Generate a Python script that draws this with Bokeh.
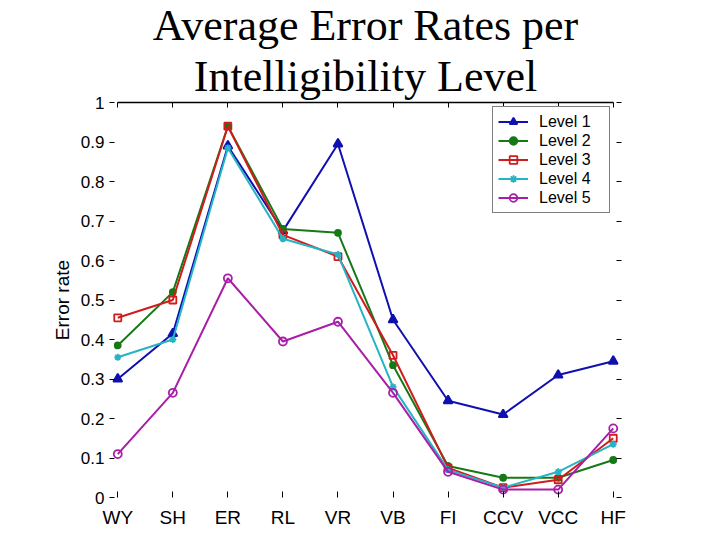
from bokeh.plotting import figure
from bokeh.models import Range1d, FixedTicker, LinearAxis, Legend, LegendItem, Title
from bokeh.embed import file_html
from bokeh.resources import INLINE

categories = ["WY", "SH", "ER", "RL", "VR", "VB", "FI", "CCV", "VCC", "HF"]
level1 = [0.30, 0.415, 0.89, 0.675, 0.895, 0.45, 0.245, 0.21, 0.31, 0.345]
level2 = [0.385, 0.52, 0.94, 0.68, 0.67, 0.335, 0.08, 0.05, 0.05, 0.095]
level3 = [0.455, 0.50, 0.94, 0.665, 0.61, 0.36, 0.075, 0.025, 0.045, 0.15]
level4 = [0.355, 0.40, 0.885, 0.655, 0.615, 0.28, 0.07, 0.025, 0.065, 0.135]
level5 = [0.11, 0.265, 0.555, 0.395, 0.445, 0.265, 0.065, 0.02, 0.02, 0.175]
series_names = ["Level 1", "Level 2", "Level 3", "Level 4", "Level 5"]
y_ticks = [0, 0.1, 0.2, 0.3, 0.4, 0.5, 0.6, 0.7, 0.8, 0.9, 1]
title_lines = ["Average Error Rates per", "Intelligibility Level"]

xpos = list(range(1, len(categories) + 1))

p = figure(width=704, height=532, output_backend="svg", toolbar_location=None,
           x_range=Range1d(0.85, 10.15), y_range=Range1d(0, 1),
           x_axis_location=None, y_axis_location=None,
           min_border_left=109, min_border_right=83, min_border_top=101, min_border_bottom=35)
p.outline_line_color = None
p.xgrid.visible = False
p.ygrid.visible = False
p.background_fill_color = "white"
p.border_fill_color = "white"

FONT = "Liberation Sans"

def style(ax, tick_in, label_size):
    ax.axis_line_color = None
    ax.major_tick_in = tick_in
    ax.major_tick_out = 0
    ax.minor_tick_line_color = None
    ax.major_tick_line_color = "black"
    ax.major_tick_line_width = 1
    ax.major_label_text_font = FONT
    ax.major_label_text_font_size = label_size
    ax.major_label_text_color = "black"

# left axis
left = LinearAxis(ticker=FixedTicker(ticks=y_ticks))
style(left, 5, "17px")
left.major_label_standoff = 5
left.major_label_overrides = {0: "0", 1: "1"}
left.axis_label = "Error rate"
left.axis_label_text_font = FONT
left.axis_label_text_font_size = "19px"
left.axis_label_text_font_style = "normal"
left.axis_label_text_color = "black"
left.axis_label_standoff = 5
p.add_layout(left, "left")

# bottom axis
bottom = LinearAxis(ticker=FixedTicker(ticks=xpos))
style(bottom, 6, "19px")
bottom.major_label_standoff = 9
bottom.major_label_overrides = {i: c for i, c in zip(xpos, categories)}
p.add_layout(bottom, "below")

# top axis (line + inward ticks, no labels)
top = LinearAxis(ticker=FixedTicker(ticks=xpos), bounds=(1, 10))
style(top, 5, "1px")
top.axis_line_color = "black"
top.axis_line_width = 1.5
top.major_label_standoff = 0
top.major_label_overrides = {i: "" for i in xpos}
p.add_layout(top, "above")

# right axis (inward ticks)
right = LinearAxis(ticker=FixedTicker(ticks=y_ticks))
style(right, 5, "1px")
right.major_label_overrides = {t: "" for t in y_ticks}
p.add_layout(right, "right")

colors = ["#1010b0", "#157a15", "#d01c1c", "#25b4c4", "#a81ea8"]
series = [level1, level2, level3, level4, level5]
markers = ["triangle", "circle", "square", "asterisk", "circle"]
msizes = [9, 6, 7, 7, 8]
fills = [True, True, False, False, False]

items = []
for name, ys, c, m, ms, f in zip(series_names, series, colors, markers, msizes, fills):
    r1 = p.line(xpos, ys, line_color=c, line_width=2)
    r2 = p.scatter(xpos, ys, marker=m, size=ms, line_color=c, line_width=1.8,
                   fill_color=c if f else "white", fill_alpha=1.0 if f else 0.0)
    items.append(LegendItem(label=name, renderers=[r1, r2]))

legend = Legend(items=items, location=(383, 284))
legend.border_line_color = "black"
legend.border_line_width = 1
legend.background_fill_color = "white"
legend.background_fill_alpha = 1.0
legend.label_text_font = FONT
legend.label_text_font_size = "16px"
legend.label_text_color = "black"
legend.glyph_width = 30
legend.glyph_height = 19
legend.label_height = 19
legend.label_width = 65
legend.label_standoff = 11
legend.padding = 5
legend.spacing = 0
legend.margin = 0
p.add_layout(legend, "center")

# two-line title, nearest line added first
for line in reversed(title_lines):
    t = Title(text=line, align="center", vertical_align="top",
              text_font="Liberation Serif", text_font_size="44px",
              text_color="black", text_font_style="normal", standoff=0)
    p.add_layout(t, "above")

open("out.html", "w").write(file_html(p, INLINE))
